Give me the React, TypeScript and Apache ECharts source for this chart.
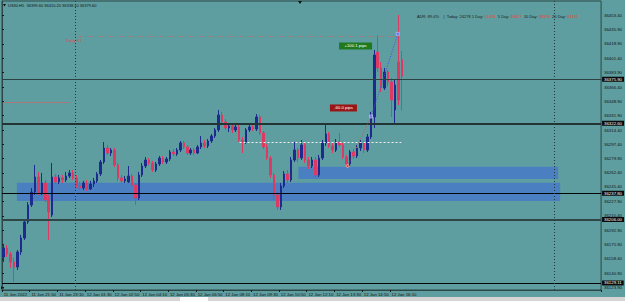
import React, { useEffect, useRef } from "react";
import * as echarts from "echarts";

const timeLabels = [
  "11 Jan 2022", "11 Jan 21:50", "11 Jan 23:10", "12 Jan 01:30", "12 Jan 02:50",
  "12 Jan 04:10", "12 Jan 05:30", "12 Jan 06:50", "12 Jan 08:10", "12 Jan 09:30",
  "12 Jan 10:50", "12 Jan 12:10", "12 Jan 13:30", "12 Jan 14:50", "12 Jan 16:10",
];

const priceTicks = [
  36453.4, 36435.9, 36418.9, 36401.4, 36383.9, 36366.4, 36348.9, 36331.9, 36314.4, 36297.4,
  36279.9, 36262.4, 36245.4, 36227.9, 36210.4, 36192.9, 36175.9, 36158.4, 36140.9, 36123.9,
];

const openPrices = [
  36160.6, 36171.5, 36164.2, 36154.5, 36148.5, 36166.7, 36183.6, 36203.0, 36223.6, 36239.3,
  36257.5, 36238.1, 36250.2, 36229.7, 36211.5, 36257.5, 36251.5, 36256.3, 36253.9, 36258.7,
  36262.4, 36256.3, 36246.6, 36244.2, 36250.2, 36243.0, 36249.0, 36252.7, 36261.2, 36275.7,
  36292.6, 36286.6, 36290.2, 36272.1, 36256.3, 36252.7, 36251.5, 36258.7, 36247.8, 36232.1,
  36259.9, 36270.8, 36278.1, 36274.5, 36266.0, 36273.3, 36280.5, 36275.7, 36279.3, 36287.8,
  36285.4, 36290.2, 36298.7, 36293.9, 36286.6, 36290.2, 36286.6, 36293.9, 36298.7, 36295.1,
  36301.1, 36307.2, 36314.5, 36332.6, 36324.2, 36316.9, 36319.3, 36314.5, 36318.1, 36302.3,
  36299.9, 36314.5, 36318.1, 36315.7, 36330.2, 36310.8, 36293.9, 36280.5, 36259.9, 36235.7,
  36221.2, 36246.6, 36261.2, 36253.9, 36278.1, 36290.2, 36280.5, 36296.3, 36278.1, 36270.8,
  36278.1, 36259.9, 36280.5, 36298.7, 36309.6, 36295.1, 36290.2, 36299.9, 36296.3, 36281.7,
  36273.3, 36287.8, 36283.0, 36292.6, 36298.7, 36290.2, 36306.0, 36330.2, 36408.9, 36389.6,
  36365.3, 36384.7, 36372.6, 36338.7, 36396.8, 36399.6,
];
const closePrices = [
  36171.5, 36164.2, 36154.5, 36148.5, 36166.7, 36183.6, 36203.0, 36223.6, 36239.3, 36257.5,
  36238.1, 36250.2, 36229.7, 36215.1, 36257.5, 36251.5, 36256.3, 36253.9, 36258.7, 36262.4,
  36256.3, 36246.6, 36244.2, 36250.2, 36243.0, 36249.0, 36252.7, 36261.2, 36275.7, 36292.6,
  36286.6, 36290.2, 36272.1, 36256.3, 36252.7, 36255.1, 36258.7, 36247.8, 36232.1, 36259.9,
  36270.8, 36278.1, 36274.5, 36266.0, 36273.3, 36280.5, 36275.7, 36279.3, 36287.8, 36285.4,
  36290.2, 36298.7, 36293.9, 36286.6, 36290.2, 36286.6, 36293.9, 36298.7, 36295.1, 36301.1,
  36307.2, 36314.5, 36332.6, 36324.2, 36316.9, 36319.3, 36314.5, 36318.1, 36302.3, 36299.9,
  36314.5, 36318.1, 36315.7, 36330.2, 36310.8, 36293.9, 36280.5, 36259.9, 36235.7, 36221.2,
  36246.6, 36261.2, 36253.9, 36278.1, 36290.2, 36280.5, 36296.3, 36278.1, 36270.8, 36278.1,
  36259.9, 36280.5, 36298.7, 36309.6, 36295.1, 36290.2, 36299.9, 36296.3, 36281.7, 36273.3,
  36287.8, 36283.0, 36292.6, 36298.7, 36290.2, 36306.0, 36330.2, 36405.3, 36389.6, 36365.3,
  36384.7, 36372.6, 36350.8, 36369.0, 36350.8, 36379.6,
];
const lowPrices = [
  36154.5, 36160.6, 36147.3, 36130.3, 36144.9, 36163.0, 36181.2, 36200.6, 36221.2, 36235.7,
  36235.7, 36235.7, 36227.2, 36181.2, 36209.1, 36249.0, 36249.0, 36250.2, 36251.5, 36256.3,
  36253.9, 36244.2, 36241.8, 36241.8, 36240.6, 36241.8, 36245.4, 36250.2, 36258.7, 36273.3,
  36284.2, 36283.0, 36269.6, 36252.7, 36250.2, 36250.2, 36250.2, 36245.4, 36223.6, 36229.7,
  36257.5, 36268.4, 36272.1, 36263.6, 36263.6, 36270.8, 36273.3, 36273.3, 36276.9, 36283.0,
  36283.0, 36287.8, 36291.4, 36284.2, 36284.2, 36284.2, 36285.4, 36291.4, 36292.6, 36292.6,
  36298.7, 36304.8, 36312.0, 36321.7, 36314.5, 36312.0, 36310.8, 36312.0, 36299.9, 36286.6,
  36297.5, 36312.0, 36313.2, 36313.2, 36308.4, 36291.4, 36278.1, 36256.3, 36229.7, 36217.5,
  36217.5, 36244.2, 36250.2, 36251.5, 36275.7, 36275.7, 36278.1, 36274.5, 36267.2, 36268.4,
  36256.3, 36257.5, 36278.1, 36295.1, 36292.6, 36286.6, 36287.8, 36293.9, 36279.3, 36269.6,
  36270.8, 36279.3, 36280.5, 36289.0, 36286.6, 36287.8, 36303.5, 36316.9, 36384.7, 36360.5,
  36362.9, 36367.8, 36330.2, 36322.9, 36344.7, 36338.1,
];
const highPrices = [
  36176.4, 36175.1, 36166.7, 36159.4, 36169.1, 36187.3, 36205.4, 36227.2, 36244.2, 36272.1,
  36263.6, 36262.4, 36253.9, 36235.7, 36274.5, 36261.2, 36259.9, 36259.9, 36263.6, 36266.0,
  36266.0, 36259.9, 36251.5, 36252.7, 36253.9, 36252.7, 36256.3, 36263.6, 36278.1, 36299.9,
  36296.3, 36292.6, 36292.6, 36274.5, 36259.9, 36258.7, 36270.8, 36261.2, 36250.2, 36263.6,
  36274.5, 36281.7, 36280.5, 36276.9, 36275.7, 36283.0, 36283.0, 36281.7, 36290.2, 36291.4,
  36292.6, 36301.1, 36301.1, 36296.3, 36292.6, 36292.6, 36296.3, 36307.2, 36302.3, 36303.5,
  36309.6, 36316.9, 36338.7, 36336.3, 36327.8, 36321.7, 36321.7, 36321.7, 36320.5, 36306.0,
  36316.9, 36320.5, 36321.7, 36333.8, 36332.6, 36313.2, 36297.5, 36283.0, 36262.4, 36239.3,
  36250.2, 36264.8, 36266.0, 36281.7, 36299.9, 36292.6, 36302.3, 36299.9, 36281.7, 36281.7,
  36281.7, 36284.2, 36302.3, 36320.5, 36312.0, 36298.7, 36303.5, 36310.8, 36298.7, 36284.2,
  36290.2, 36291.4, 36296.3, 36302.3, 36301.1, 36309.6, 36336.3, 36411.4, 36429.5, 36396.8,
  36389.6, 36387.1, 36377.4, 36375.0, 36453.8, 36410.2,
];

const levelPrices = [36375.9, 36322.6, 36237.8, 36206.0, 36129.11];
const dailyR1Price = 36427.5;
const leftStubPrice = 36348.4;
const dashedPrice = 36299.3;
const zoneUpper = [36269.9, 36255.1];
const zoneLower = [36250.6, 36228.4];
const measurePrices = [36270.8, 36330.8, 36430.9];
const pipLabels = ["-60.0 pips", "+100.1 pips"];
const headerOHLC = ["36399.60", "36410.20", "36338.10", "36379.60"];
const adrNames = ["1 Day", "5 Day", "10 Day", "20 Day"];
const adrValues = ["51058", "46627", "38328", "43435"];

const SLOTS = 173;

export default function App() {
  const ref = useRef<HTMLDivElement>(null);
  useEffect(() => {
    document.body.style.margin = "0";
    const chart = echarts.init(ref.current!, null, { renderer: "svg" });
    const FONT = "Liberation Sans";
    const FS = 4.3;
    const BLUE = "#1d2b8c";
    const RED = "#dc3a62";
    const frame = "#2d4646";
    const candles = openPrices.map((o, i) => [o, closePrices[i], lowPrices[i], highPrices[i]]);
    const cats = Array.from({ length: SLOTS }, (_, i) => "b" + i);
    const showTick = (i: number) => i % 8 === 0 && i / 8 < timeLabels.length;
    const levelStyles = [
      { color: "#2c4242", width: 1 },
      { color: "#223434", width: 2 },
      { color: "#060606", width: 1 },
      { color: "#304646", width: 2 },
      { color: "#060606", width: 1 },
    ];
    const noSym = ["none", "none"];
    const lineData: any[] = [
      ...levelPrices.map((p, k) => ({
        yAxis: p,
        lineStyle: { ...levelStyles[k], type: "solid" },
        label: {
          show: true, position: "end", formatter: p.toFixed(2), distance: 1,
          backgroundColor: "#0a0a0a", color: "#ffffff", fontSize: FS, fontFamily: FONT,
          padding: [1, 2, 0, 2],
        },
      })),
      { xAxis: 21.05, lineStyle: { color: "#243a3a", type: [1, 2], width: 1 } },
      { xAxis: 159.5, lineStyle: { color: "#243a3a", type: [1, 2], width: 1 } },
      [
        { coord: [21.05, dailyR1Price], lineStyle: { color: "#b07272", type: [1, 1.5], width: 1 } },
        { coord: [114.8, dailyR1Price] },
      ],
      [
        { coord: [0.3, leftStubPrice], lineStyle: { color: "#a87878", type: "solid", width: 1 } },
        { coord: [19.6, leftStubPrice] },
      ],
      [
        { coord: [68.6, dashedPrice], lineStyle: { color: "#f2f2f2", type: [2, 2], width: 1 } },
        { coord: [115.3, dashedPrice] },
      ],
      [
        { coord: [99.8, measurePrices[0]], lineStyle: { color: "#d05454", type: [1, 1.5], width: 1 } },
        { coord: [106.6, measurePrices[1]] },
      ],
      [
        { coord: [106.6, measurePrices[1]], lineStyle: { color: "#4c4ce0", type: [1, 1.5], width: 1 } },
        { coord: [114.3, measurePrices[2]] },
      ],
    ];
    const pointData: any[] = [
      {
        coord: [102.1, 36416.3], symbol: "rect", symbolSize: [33, 7],
        itemStyle: { color: "#1f7a1f" },
        label: { show: true, position: "inside", formatter: pipLabels[1], color: "#fff", fontSize: FS, fontFamily: FONT },
      },
      {
        coord: [98.6, 36341.1], symbol: "rect", symbolSize: [27, 7],
        itemStyle: { color: "#9a1515" },
        label: { show: true, position: "inside", formatter: pipLabels[0], color: "#fff", fontSize: FS, fontFamily: FONT },
      },
      { coord: [99.8, measurePrices[0]], symbol: "circle", symbolSize: 3, itemStyle: { color: "#e04848", borderColor: "#ffdddd", borderWidth: 0.5 } },
      { coord: [106.6, measurePrices[1]], symbol: "rect", symbolSize: 3, itemStyle: { color: "#6c6cf0", borderColor: "#e0e0ff", borderWidth: 0.5 } },
      { coord: [114.3, measurePrices[2]], symbol: "rect", symbolSize: 3, itemStyle: { color: "#6c6cf0", borderColor: "#e0e0ff", borderWidth: 0.5 } },
    ];
    const adrText =
      "ADR: 89.4%    |  Today: 24278 " +
      adrNames.map((n, k) => `${n}: {r|${adrValues[k]}}`).join("  ");
    const option: any = {
      animation: false,
      backgroundColor: "#5f9ea0",
      grid: {
        left: 2, right: 23, top: 1, bottom: 11, show: true,
        borderColor: frame, borderWidth: 1, backgroundColor: "transparent",
      },
      xAxis: [
        {
          type: "category", data: cats, boundaryGap: true,
          axisLine: { show: true, lineStyle: { color: frame } },
          axisTick: { show: true, interval: (i: number) => showTick(i), length: 2, lineStyle: { color: "#1a1a1a" } },
          axisLabel: {
            interval: (i: number) => showTick(i),
            formatter: (_v: string, i: number) => (showTick(i) ? timeLabels[i / 8] : ""),
            align: "left", fontSize: FS, fontFamily: FONT, color: "#111", margin: 2,
          },
          splitLine: { show: false },
        },
        { type: "value", min: 0, max: SLOTS, show: false },
      ],
      yAxis: {
        type: "value", position: "right", min: 36120.6, max: 36470.7, scale: true,
        axisLine: { show: true, lineStyle: { color: frame } },
        axisTick: { show: true, length: 2, customValues: priceTicks, lineStyle: { color: "#1a1a1a" } },
        axisLabel: {
          customValues: priceTicks, formatter: (v: number) => v.toFixed(2),
          fontSize: FS, fontFamily: FONT, color: "#111", margin: 3,
        },
        splitLine: { show: false },
      },
      series: [
        {
          type: "line", xAxisIndex: 1, data: [], z: 1, silent: true,
          markArea: {
            silent: true, itemStyle: { color: "#4a7fc2" }, label: { show: false },
            data: [
              [{ coord: [4.3, zoneLower[0]] }, { coord: [161.2, zoneLower[1]] }],
              [{ coord: [85.6, zoneUpper[0]] }, { coord: [160.6, zoneUpper[1]] }],
            ],
          },
        },
        {
          type: "candlestick", xAxisIndex: 0, data: candles, barWidth: 2, z: 3,
          itemStyle: { color: BLUE, color0: RED, borderColor: BLUE, borderColor0: RED, borderWidth: 1 },
        },
        {
          type: "line", xAxisIndex: 1, data: [], z: 4, silent: true,
          markLine: { silent: true, symbol: noSym, label: { show: false }, data: lineData },
          markPoint: { silent: true, label: { show: false }, data: pointData },
        },
      ],
      graphic: [
        { type: "polygon", shape: { points: [[3, 4], [6, 4], [4.5, 6.5]] }, style: { fill: "#111" } },
        {
          type: "text", x: 8, y: 5,
          style: { text: "US30.H5  " + headerOHLC.join(" "), fontSize: 4, fontFamily: FONT, fill: "#111", verticalAlign: "middle" },
        },
        {
          type: "text", x: 417, y: 16,
          style: {
            text: adrText, fontSize: 4, fontFamily: FONT, fill: "#1a1a1a", verticalAlign: "middle",
            rich: { r: { fill: "#e8402e", fontSize: 4, fontFamily: FONT } },
          },
        },
        {
          type: "text", x: 66, y: 40,
          style: { text: "Daily R1", fontSize: FS, fontFamily: FONT, fill: "#e04452", verticalAlign: "middle" },
        },
        { type: "polygon", shape: { points: [[298, 1], [302, 1], [300, 4]] }, style: { fill: "#111" } },
        { type: "polygon", shape: { points: [[1, 286], [4, 289], [1, 289]] }, style: { fill: "#111" } },
        { type: "rect", shape: { x: 0, y: 297, width: 625, height: 4 }, style: { fill: "#d4d4d4" } },
        { type: "rect", shape: { x: 180, y: 297, width: 28, height: 4 }, style: { fill: "#fafafa" } },
      ],
    };
    chart.setOption(option);
    return () => chart.dispose();
  }, []);
  return <div ref={ref} style={{ width: 625, height: 301 }} />;
}
